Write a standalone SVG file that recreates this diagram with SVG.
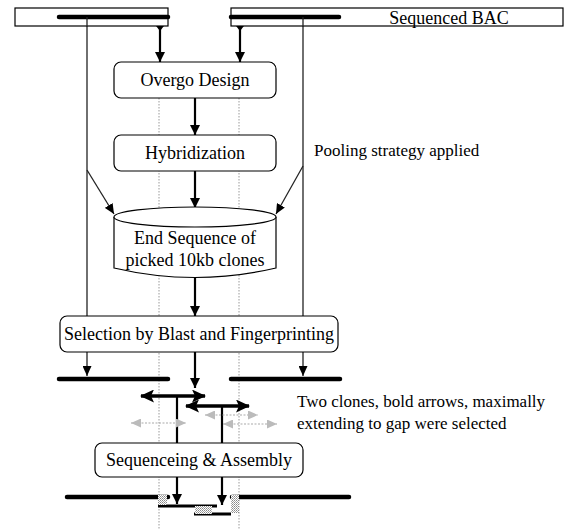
<svg xmlns="http://www.w3.org/2000/svg" width="569" height="529" viewBox="0 0 569 529">
<style>
text{font-family:"Liberation Serif","Times New Roman",serif;fill:#000}
.box{fill:#fff;stroke:#000;stroke-width:1.2}
.lbl{font-size:18px;text-anchor:middle}
.note{font-size:17px}
.guide{stroke:#999;stroke-width:1;stroke-dasharray:1.5 1.5;fill:none}
.dark{stroke:#222;stroke-width:1.3;fill:none}
.main{stroke:#000;stroke-width:2.2;fill:none}
.bar{stroke:#000;stroke-width:4.5;stroke-linecap:round;fill:none}
.bold{stroke:#000;stroke-width:3.5;fill:none}
.gray{stroke:#aaa;stroke-width:1.2;stroke-dasharray:2 1.5;fill:none}
</style>
<defs>
<marker id="a" markerUnits="userSpaceOnUse" markerWidth="10" markerHeight="10" refX="10" refY="5" orient="auto"><path d="M0,0 L10,5 L0,10 z" fill="#000"/></marker>
<marker id="as" markerUnits="userSpaceOnUse" markerWidth="10" markerHeight="9" refX="10" refY="4.5" orient="auto"><path d="M0,0 L10,4.5 L0,9 z" fill="#000"/></marker>
<marker id="ab" markerUnits="userSpaceOnUse" markerWidth="14" markerHeight="13" refX="13" refY="6.5" orient="auto-start-reverse"><path d="M0,0 L14,6.5 L0,13 L3,6.5 z" fill="#000"/></marker>
<marker id="ag" markerUnits="userSpaceOnUse" markerWidth="10" markerHeight="9" refX="10" refY="4.5" orient="auto-start-reverse"><path d="M0,0 L10,4.5 L0,9 z" fill="#bbb"/></marker>
<pattern id="dots" width="2" height="2" patternUnits="userSpaceOnUse"><rect width="2" height="2" fill="#fff"/><rect width="1" height="1" fill="#888"/><rect x="1" y="1" width="1" height="1" fill="#aaa"/></pattern>
</defs>

<g id="connectors">
<!-- gray guide lines -->
<line class="guide" x1="159" y1="98" x2="159" y2="529"/>
<line class="guide" x1="239" y1="98" x2="239" y2="529"/>
<!-- dark verticals from BAC to bars -->
<line class="dark" x1="87" y1="17" x2="87" y2="376" marker-end="url(#as)"/>
<line class="dark" x1="303" y1="17" x2="303" y2="376" marker-end="url(#as)"/>
<!-- pooling diagonals -->
<line class="dark" x1="87" y1="170" x2="114" y2="214" marker-end="url(#as)"/>
<line class="dark" x1="303" y1="166" x2="276" y2="214" marker-end="url(#as)"/>
<!-- diamonds and arrows to Overgo -->
<path d="M160,21 L164,26 L160,31 L156,26 z" fill="#000"/>
<path d="M240,21 L244,26 L240,31 L236,26 z" fill="#000"/>
<line class="main" x1="160" y1="26" x2="160" y2="62" marker-end="url(#a)"/>
<line class="main" x1="240" y1="26" x2="240" y2="62" marker-end="url(#a)"/>
<!-- main flow -->
<line class="main" x1="195" y1="98" x2="195" y2="135" marker-end="url(#a)"/>
<line class="main" x1="195" y1="171" x2="195" y2="208" marker-end="url(#a)"/>
<line class="main" x1="195" y1="276" x2="195" y2="316" marker-end="url(#a)"/>
<line class="main" x1="195" y1="352" x2="195" y2="388" marker-end="url(#a)"/>
<!-- clone stems -->
<line class="main" x1="177" y1="396" x2="177" y2="443"/>
<line class="main" x1="222" y1="406" x2="222" y2="443"/>
<line class="main" x1="177" y1="477" x2="177" y2="504" marker-end="url(#a)"/>
<line class="main" x1="222" y1="477" x2="222" y2="505" marker-end="url(#a)"/>
<!-- bold clone arrows -->
<line class="bold" x1="141" y1="396" x2="205" y2="396" marker-start="url(#ab)" marker-end="url(#ab)"/>
<line class="bold" x1="186" y1="406" x2="249" y2="406" marker-start="url(#ab)" marker-end="url(#ab)"/>
<!-- gray alternative arrows -->
<line class="gray" x1="131" y1="423" x2="186" y2="423" marker-start="url(#ag)" marker-end="url(#ag)"/>
<line class="gray" x1="205" y1="415" x2="258" y2="415" marker-start="url(#ag)" marker-end="url(#ag)"/>
<line class="gray" x1="223" y1="424" x2="277" y2="424" marker-start="url(#ag)" marker-end="url(#ag)"/>
</g>

<g id="bac">
<rect x="15" y="8" width="153" height="18" fill="#fff" stroke="#000" stroke-width="1.2"/>
<rect x="231" y="8" width="332" height="18" fill="#fff" stroke="#000" stroke-width="1.2"/>
<line class="bar" x1="59" y1="17" x2="168" y2="17"/>
<line class="bar" x1="231" y1="17" x2="339" y2="17"/>
<line class="dark" x1="87" y1="17" x2="87" y2="26"/>
<line class="dark" x1="303" y1="17" x2="303" y2="26"/>
<text x="449" y="24" font-size="18" text-anchor="middle">Sequenced BAC</text>
</g>

<g id="overgo">
<rect class="box" x="114" y="62" width="162" height="36" rx="7"/>
<text class="lbl" x="195" y="86">Overgo Design</text>
</g>

<g id="hybridization">
<rect class="box" x="114" y="135" width="162" height="36" rx="7"/>
<text class="lbl" x="195" y="159">Hybridization</text>
</g>

<g id="pooling">
<text class="note" x="314" y="156">Pooling strategy applied</text>
</g>

<g id="endseq">
<path class="box" d="M114,217 L114,268 Q195,287 276,268 L276,217"/>
<ellipse class="box" cx="195" cy="217" rx="81" ry="10"/>
<text class="lbl" x="195" y="244">End Sequence of</text>
<text class="lbl" x="195" y="266">picked 10kb clones</text>
</g>

<g id="selection">
<rect class="box" x="60" y="316" width="278" height="36" rx="7"/>
<text class="lbl" x="199" y="340">Selection by Blast and Fingerprinting</text>
</g>

<g id="bars">
<line class="bar" x1="59" y1="379" x2="168" y2="379"/>
<line class="bar" x1="231" y1="379" x2="340" y2="379"/>
</g>

<g id="clonesnote">
<text class="note" x="297" y="407">Two clones, bold arrows, maximally</text>
<text class="note" x="297" y="429">extending to gap were selected</text>
</g>

<g id="sequencing">
<rect class="box" x="95" y="443" width="208" height="34" rx="7"/>
<text class="lbl" x="199" y="466">Sequenceing &amp; Assembly</text>
</g>

<g id="assembly">
<line class="bar" x1="67" y1="497" x2="168" y2="497"/>
<line class="bar" x1="232" y1="497" x2="349" y2="497"/>
<line stroke="#000" stroke-width="3" x1="158" y1="506" x2="217" y2="506"/>
<line stroke="#000" stroke-width="3" x1="194" y1="514" x2="231" y2="514"/>
<rect x="158" y="495" width="9" height="10" fill="url(#dots)"/>
<rect x="195" y="506" width="17" height="8" fill="url(#dots)"/>
<rect x="231" y="495" width="8" height="18" fill="url(#dots)"/>
</g>
</svg>
